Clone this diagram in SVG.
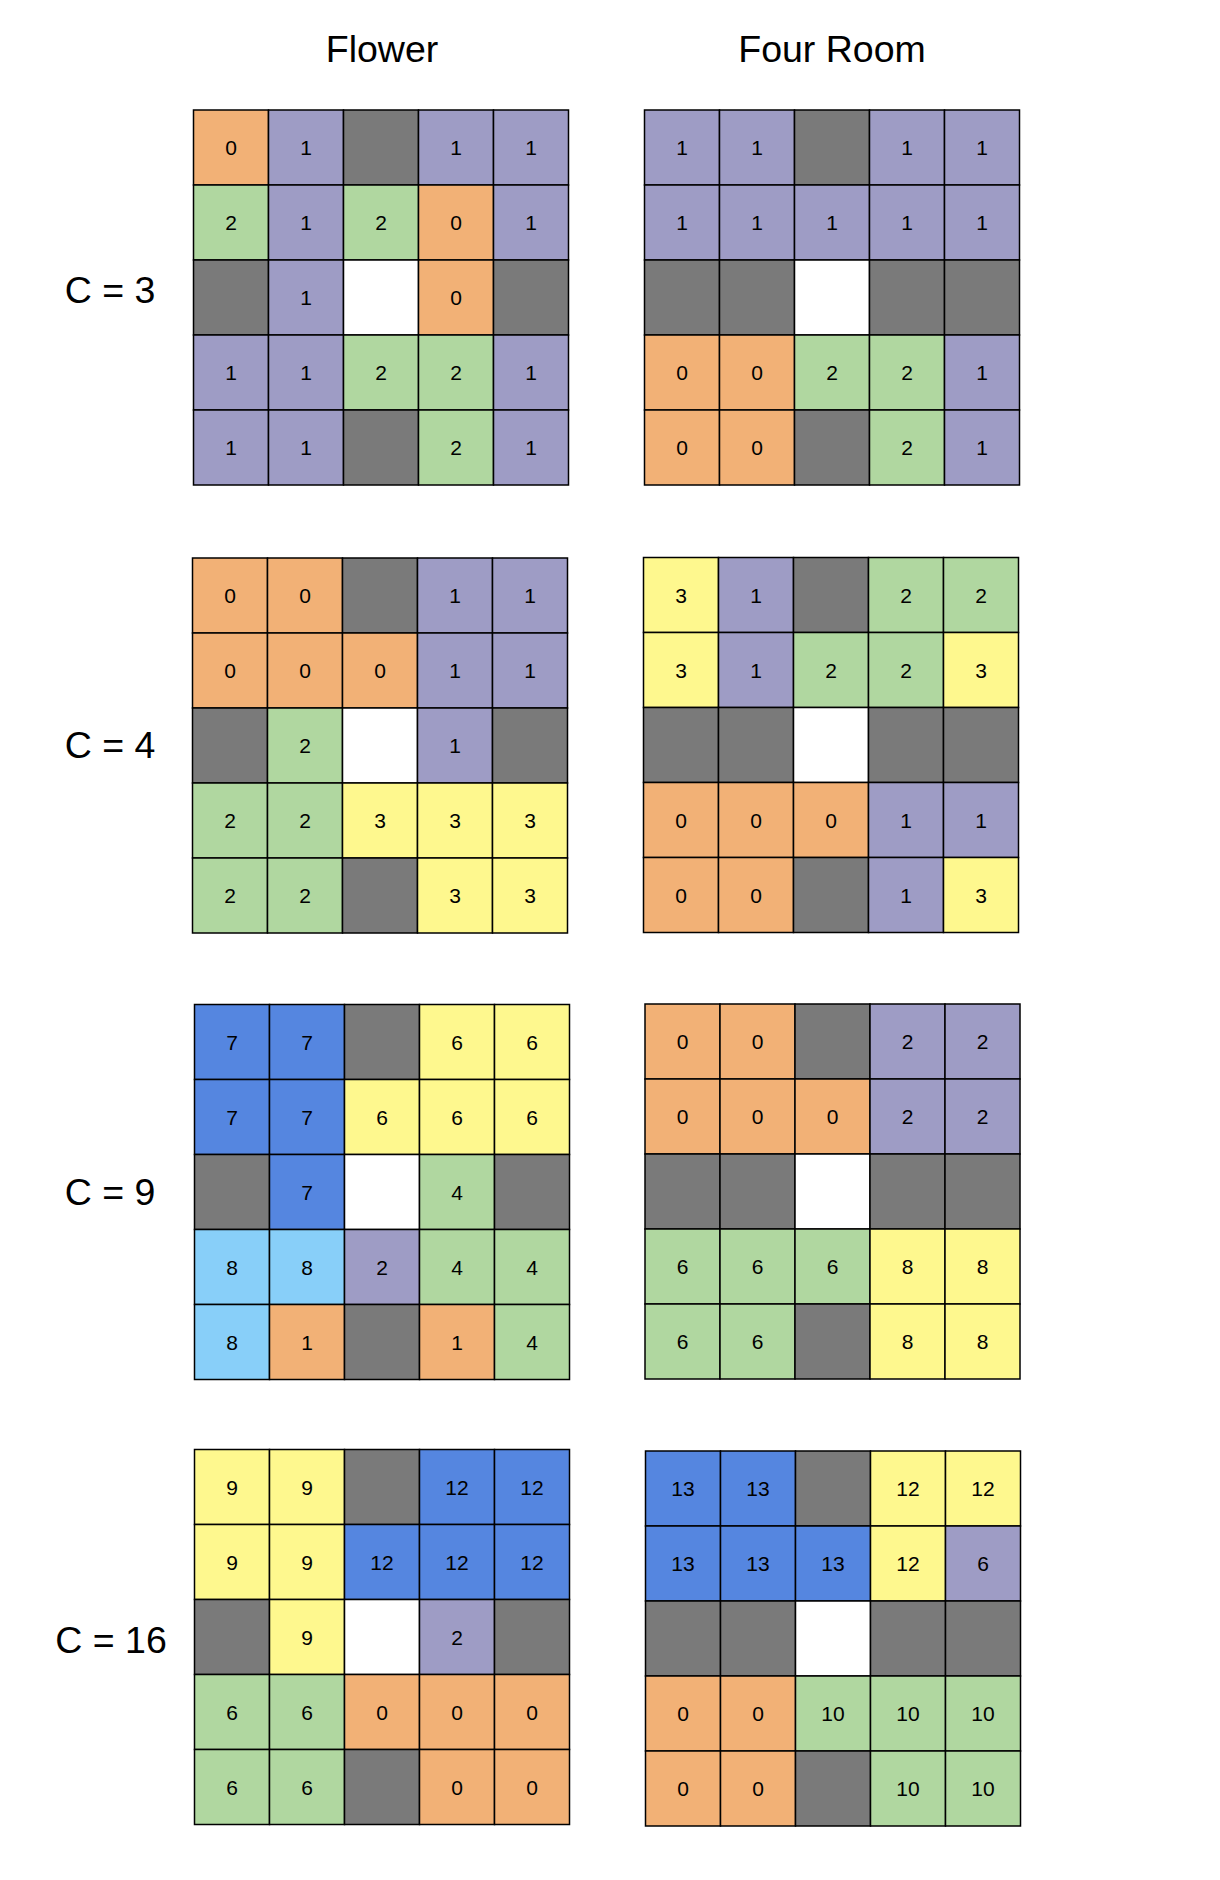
<svg xmlns="http://www.w3.org/2000/svg" width="1220" height="1880" viewBox="0 0 1220 1880">
<style>
rect{stroke:#000;stroke-width:1.5}
.o{fill:#F2B176}.p{fill:#9E9CC5}.g{fill:#B0D7A0}.k{fill:#7A7A7A}.w{fill:#FFFFFF}.y{fill:#FEF88E}.b{fill:#5586E0}.l{fill:#88CFF9}
text{font-family:"Liberation Sans",Arial,sans-serif;fill:#000;text-anchor:middle}
.n{font-size:21px}
.t{font-size:37.5px}
</style>
<rect x="0" y="0" width="1220" height="1880" fill="#FFFFFF" style="stroke:none"/>
<g id="titles">
<text class="t" x="382" y="62">Flower</text>
<text class="t" x="832" y="62">Four Room</text>
<text class="t" x="110" y="303">C = 3</text>
<text class="t" x="110" y="758">C = 4</text>
<text class="t" x="110" y="1205">C = 9</text>
<text class="t" x="111" y="1653">C = 16</text>
</g>

<g id="flower-c3" transform="translate(193.5,110)">
<rect class="o" x="0" y="0" width="75" height="75"/><text class="n" x="37.5" y="45">0</text>
<rect class="p" x="75" y="0" width="75" height="75"/><text class="n" x="112.5" y="45">1</text>
<rect class="k" x="150" y="0" width="75" height="75"/>
<rect class="p" x="225" y="0" width="75" height="75"/><text class="n" x="262.5" y="45">1</text>
<rect class="p" x="300" y="0" width="75" height="75"/><text class="n" x="337.5" y="45">1</text>
<rect class="g" x="0" y="75" width="75" height="75"/><text class="n" x="37.5" y="120">2</text>
<rect class="p" x="75" y="75" width="75" height="75"/><text class="n" x="112.5" y="120">1</text>
<rect class="g" x="150" y="75" width="75" height="75"/><text class="n" x="187.5" y="120">2</text>
<rect class="o" x="225" y="75" width="75" height="75"/><text class="n" x="262.5" y="120">0</text>
<rect class="p" x="300" y="75" width="75" height="75"/><text class="n" x="337.5" y="120">1</text>
<rect class="k" x="0" y="150" width="75" height="75"/>
<rect class="p" x="75" y="150" width="75" height="75"/><text class="n" x="112.5" y="195">1</text>
<rect class="w" x="150" y="150" width="75" height="75"/>
<rect class="o" x="225" y="150" width="75" height="75"/><text class="n" x="262.5" y="195">0</text>
<rect class="k" x="300" y="150" width="75" height="75"/>
<rect class="p" x="0" y="225" width="75" height="75"/><text class="n" x="37.5" y="270">1</text>
<rect class="p" x="75" y="225" width="75" height="75"/><text class="n" x="112.5" y="270">1</text>
<rect class="g" x="150" y="225" width="75" height="75"/><text class="n" x="187.5" y="270">2</text>
<rect class="g" x="225" y="225" width="75" height="75"/><text class="n" x="262.5" y="270">2</text>
<rect class="p" x="300" y="225" width="75" height="75"/><text class="n" x="337.5" y="270">1</text>
<rect class="p" x="0" y="300" width="75" height="75"/><text class="n" x="37.5" y="345">1</text>
<rect class="p" x="75" y="300" width="75" height="75"/><text class="n" x="112.5" y="345">1</text>
<rect class="k" x="150" y="300" width="75" height="75"/>
<rect class="g" x="225" y="300" width="75" height="75"/><text class="n" x="262.5" y="345">2</text>
<rect class="p" x="300" y="300" width="75" height="75"/><text class="n" x="337.5" y="345">1</text>
</g>

<g id="fourroom-c3" transform="translate(644.5,110)">
<rect class="p" x="0" y="0" width="75" height="75"/><text class="n" x="37.5" y="45">1</text>
<rect class="p" x="75" y="0" width="75" height="75"/><text class="n" x="112.5" y="45">1</text>
<rect class="k" x="150" y="0" width="75" height="75"/>
<rect class="p" x="225" y="0" width="75" height="75"/><text class="n" x="262.5" y="45">1</text>
<rect class="p" x="300" y="0" width="75" height="75"/><text class="n" x="337.5" y="45">1</text>
<rect class="p" x="0" y="75" width="75" height="75"/><text class="n" x="37.5" y="120">1</text>
<rect class="p" x="75" y="75" width="75" height="75"/><text class="n" x="112.5" y="120">1</text>
<rect class="p" x="150" y="75" width="75" height="75"/><text class="n" x="187.5" y="120">1</text>
<rect class="p" x="225" y="75" width="75" height="75"/><text class="n" x="262.5" y="120">1</text>
<rect class="p" x="300" y="75" width="75" height="75"/><text class="n" x="337.5" y="120">1</text>
<rect class="k" x="0" y="150" width="75" height="75"/>
<rect class="k" x="75" y="150" width="75" height="75"/>
<rect class="w" x="150" y="150" width="75" height="75"/>
<rect class="k" x="225" y="150" width="75" height="75"/>
<rect class="k" x="300" y="150" width="75" height="75"/>
<rect class="o" x="0" y="225" width="75" height="75"/><text class="n" x="37.5" y="270">0</text>
<rect class="o" x="75" y="225" width="75" height="75"/><text class="n" x="112.5" y="270">0</text>
<rect class="g" x="150" y="225" width="75" height="75"/><text class="n" x="187.5" y="270">2</text>
<rect class="g" x="225" y="225" width="75" height="75"/><text class="n" x="262.5" y="270">2</text>
<rect class="p" x="300" y="225" width="75" height="75"/><text class="n" x="337.5" y="270">1</text>
<rect class="o" x="0" y="300" width="75" height="75"/><text class="n" x="37.5" y="345">0</text>
<rect class="o" x="75" y="300" width="75" height="75"/><text class="n" x="112.5" y="345">0</text>
<rect class="k" x="150" y="300" width="75" height="75"/>
<rect class="g" x="225" y="300" width="75" height="75"/><text class="n" x="262.5" y="345">2</text>
<rect class="p" x="300" y="300" width="75" height="75"/><text class="n" x="337.5" y="345">1</text>
</g>

<g id="flower-c4" transform="translate(192.5,558)">
<rect class="o" x="0" y="0" width="75" height="75"/><text class="n" x="37.5" y="45">0</text>
<rect class="o" x="75" y="0" width="75" height="75"/><text class="n" x="112.5" y="45">0</text>
<rect class="k" x="150" y="0" width="75" height="75"/>
<rect class="p" x="225" y="0" width="75" height="75"/><text class="n" x="262.5" y="45">1</text>
<rect class="p" x="300" y="0" width="75" height="75"/><text class="n" x="337.5" y="45">1</text>
<rect class="o" x="0" y="75" width="75" height="75"/><text class="n" x="37.5" y="120">0</text>
<rect class="o" x="75" y="75" width="75" height="75"/><text class="n" x="112.5" y="120">0</text>
<rect class="o" x="150" y="75" width="75" height="75"/><text class="n" x="187.5" y="120">0</text>
<rect class="p" x="225" y="75" width="75" height="75"/><text class="n" x="262.5" y="120">1</text>
<rect class="p" x="300" y="75" width="75" height="75"/><text class="n" x="337.5" y="120">1</text>
<rect class="k" x="0" y="150" width="75" height="75"/>
<rect class="g" x="75" y="150" width="75" height="75"/><text class="n" x="112.5" y="195">2</text>
<rect class="w" x="150" y="150" width="75" height="75"/>
<rect class="p" x="225" y="150" width="75" height="75"/><text class="n" x="262.5" y="195">1</text>
<rect class="k" x="300" y="150" width="75" height="75"/>
<rect class="g" x="0" y="225" width="75" height="75"/><text class="n" x="37.5" y="270">2</text>
<rect class="g" x="75" y="225" width="75" height="75"/><text class="n" x="112.5" y="270">2</text>
<rect class="y" x="150" y="225" width="75" height="75"/><text class="n" x="187.5" y="270">3</text>
<rect class="y" x="225" y="225" width="75" height="75"/><text class="n" x="262.5" y="270">3</text>
<rect class="y" x="300" y="225" width="75" height="75"/><text class="n" x="337.5" y="270">3</text>
<rect class="g" x="0" y="300" width="75" height="75"/><text class="n" x="37.5" y="345">2</text>
<rect class="g" x="75" y="300" width="75" height="75"/><text class="n" x="112.5" y="345">2</text>
<rect class="k" x="150" y="300" width="75" height="75"/>
<rect class="y" x="225" y="300" width="75" height="75"/><text class="n" x="262.5" y="345">3</text>
<rect class="y" x="300" y="300" width="75" height="75"/><text class="n" x="337.5" y="345">3</text>
</g>

<g id="fourroom-c4" transform="translate(643.5,557.5)">
<rect class="y" x="0" y="0" width="75" height="75"/><text class="n" x="37.5" y="45">3</text>
<rect class="p" x="75" y="0" width="75" height="75"/><text class="n" x="112.5" y="45">1</text>
<rect class="k" x="150" y="0" width="75" height="75"/>
<rect class="g" x="225" y="0" width="75" height="75"/><text class="n" x="262.5" y="45">2</text>
<rect class="g" x="300" y="0" width="75" height="75"/><text class="n" x="337.5" y="45">2</text>
<rect class="y" x="0" y="75" width="75" height="75"/><text class="n" x="37.5" y="120">3</text>
<rect class="p" x="75" y="75" width="75" height="75"/><text class="n" x="112.5" y="120">1</text>
<rect class="g" x="150" y="75" width="75" height="75"/><text class="n" x="187.5" y="120">2</text>
<rect class="g" x="225" y="75" width="75" height="75"/><text class="n" x="262.5" y="120">2</text>
<rect class="y" x="300" y="75" width="75" height="75"/><text class="n" x="337.5" y="120">3</text>
<rect class="k" x="0" y="150" width="75" height="75"/>
<rect class="k" x="75" y="150" width="75" height="75"/>
<rect class="w" x="150" y="150" width="75" height="75"/>
<rect class="k" x="225" y="150" width="75" height="75"/>
<rect class="k" x="300" y="150" width="75" height="75"/>
<rect class="o" x="0" y="225" width="75" height="75"/><text class="n" x="37.5" y="270">0</text>
<rect class="o" x="75" y="225" width="75" height="75"/><text class="n" x="112.5" y="270">0</text>
<rect class="o" x="150" y="225" width="75" height="75"/><text class="n" x="187.5" y="270">0</text>
<rect class="p" x="225" y="225" width="75" height="75"/><text class="n" x="262.5" y="270">1</text>
<rect class="p" x="300" y="225" width="75" height="75"/><text class="n" x="337.5" y="270">1</text>
<rect class="o" x="0" y="300" width="75" height="75"/><text class="n" x="37.5" y="345">0</text>
<rect class="o" x="75" y="300" width="75" height="75"/><text class="n" x="112.5" y="345">0</text>
<rect class="k" x="150" y="300" width="75" height="75"/>
<rect class="p" x="225" y="300" width="75" height="75"/><text class="n" x="262.5" y="345">1</text>
<rect class="y" x="300" y="300" width="75" height="75"/><text class="n" x="337.5" y="345">3</text>
</g>

<g id="flower-c9" transform="translate(194.5,1004.5)">
<rect class="b" x="0" y="0" width="75" height="75"/><text class="n" x="37.5" y="45">7</text>
<rect class="b" x="75" y="0" width="75" height="75"/><text class="n" x="112.5" y="45">7</text>
<rect class="k" x="150" y="0" width="75" height="75"/>
<rect class="y" x="225" y="0" width="75" height="75"/><text class="n" x="262.5" y="45">6</text>
<rect class="y" x="300" y="0" width="75" height="75"/><text class="n" x="337.5" y="45">6</text>
<rect class="b" x="0" y="75" width="75" height="75"/><text class="n" x="37.5" y="120">7</text>
<rect class="b" x="75" y="75" width="75" height="75"/><text class="n" x="112.5" y="120">7</text>
<rect class="y" x="150" y="75" width="75" height="75"/><text class="n" x="187.5" y="120">6</text>
<rect class="y" x="225" y="75" width="75" height="75"/><text class="n" x="262.5" y="120">6</text>
<rect class="y" x="300" y="75" width="75" height="75"/><text class="n" x="337.5" y="120">6</text>
<rect class="k" x="0" y="150" width="75" height="75"/>
<rect class="b" x="75" y="150" width="75" height="75"/><text class="n" x="112.5" y="195">7</text>
<rect class="w" x="150" y="150" width="75" height="75"/>
<rect class="g" x="225" y="150" width="75" height="75"/><text class="n" x="262.5" y="195">4</text>
<rect class="k" x="300" y="150" width="75" height="75"/>
<rect class="l" x="0" y="225" width="75" height="75"/><text class="n" x="37.5" y="270">8</text>
<rect class="l" x="75" y="225" width="75" height="75"/><text class="n" x="112.5" y="270">8</text>
<rect class="p" x="150" y="225" width="75" height="75"/><text class="n" x="187.5" y="270">2</text>
<rect class="g" x="225" y="225" width="75" height="75"/><text class="n" x="262.5" y="270">4</text>
<rect class="g" x="300" y="225" width="75" height="75"/><text class="n" x="337.5" y="270">4</text>
<rect class="l" x="0" y="300" width="75" height="75"/><text class="n" x="37.5" y="345">8</text>
<rect class="o" x="75" y="300" width="75" height="75"/><text class="n" x="112.5" y="345">1</text>
<rect class="k" x="150" y="300" width="75" height="75"/>
<rect class="o" x="225" y="300" width="75" height="75"/><text class="n" x="262.5" y="345">1</text>
<rect class="g" x="300" y="300" width="75" height="75"/><text class="n" x="337.5" y="345">4</text>
</g>

<g id="fourroom-c9" transform="translate(645,1004)">
<rect class="o" x="0" y="0" width="75" height="75"/><text class="n" x="37.5" y="45">0</text>
<rect class="o" x="75" y="0" width="75" height="75"/><text class="n" x="112.5" y="45">0</text>
<rect class="k" x="150" y="0" width="75" height="75"/>
<rect class="p" x="225" y="0" width="75" height="75"/><text class="n" x="262.5" y="45">2</text>
<rect class="p" x="300" y="0" width="75" height="75"/><text class="n" x="337.5" y="45">2</text>
<rect class="o" x="0" y="75" width="75" height="75"/><text class="n" x="37.5" y="120">0</text>
<rect class="o" x="75" y="75" width="75" height="75"/><text class="n" x="112.5" y="120">0</text>
<rect class="o" x="150" y="75" width="75" height="75"/><text class="n" x="187.5" y="120">0</text>
<rect class="p" x="225" y="75" width="75" height="75"/><text class="n" x="262.5" y="120">2</text>
<rect class="p" x="300" y="75" width="75" height="75"/><text class="n" x="337.5" y="120">2</text>
<rect class="k" x="0" y="150" width="75" height="75"/>
<rect class="k" x="75" y="150" width="75" height="75"/>
<rect class="w" x="150" y="150" width="75" height="75"/>
<rect class="k" x="225" y="150" width="75" height="75"/>
<rect class="k" x="300" y="150" width="75" height="75"/>
<rect class="g" x="0" y="225" width="75" height="75"/><text class="n" x="37.5" y="270">6</text>
<rect class="g" x="75" y="225" width="75" height="75"/><text class="n" x="112.5" y="270">6</text>
<rect class="g" x="150" y="225" width="75" height="75"/><text class="n" x="187.5" y="270">6</text>
<rect class="y" x="225" y="225" width="75" height="75"/><text class="n" x="262.5" y="270">8</text>
<rect class="y" x="300" y="225" width="75" height="75"/><text class="n" x="337.5" y="270">8</text>
<rect class="g" x="0" y="300" width="75" height="75"/><text class="n" x="37.5" y="345">6</text>
<rect class="g" x="75" y="300" width="75" height="75"/><text class="n" x="112.5" y="345">6</text>
<rect class="k" x="150" y="300" width="75" height="75"/>
<rect class="y" x="225" y="300" width="75" height="75"/><text class="n" x="262.5" y="345">8</text>
<rect class="y" x="300" y="300" width="75" height="75"/><text class="n" x="337.5" y="345">8</text>
</g>

<g id="flower-c16" transform="translate(194.5,1449.5)">
<rect class="y" x="0" y="0" width="75" height="75"/><text class="n" x="37.5" y="45">9</text>
<rect class="y" x="75" y="0" width="75" height="75"/><text class="n" x="112.5" y="45">9</text>
<rect class="k" x="150" y="0" width="75" height="75"/>
<rect class="b" x="225" y="0" width="75" height="75"/><text class="n" x="262.5" y="45">12</text>
<rect class="b" x="300" y="0" width="75" height="75"/><text class="n" x="337.5" y="45">12</text>
<rect class="y" x="0" y="75" width="75" height="75"/><text class="n" x="37.5" y="120">9</text>
<rect class="y" x="75" y="75" width="75" height="75"/><text class="n" x="112.5" y="120">9</text>
<rect class="b" x="150" y="75" width="75" height="75"/><text class="n" x="187.5" y="120">12</text>
<rect class="b" x="225" y="75" width="75" height="75"/><text class="n" x="262.5" y="120">12</text>
<rect class="b" x="300" y="75" width="75" height="75"/><text class="n" x="337.5" y="120">12</text>
<rect class="k" x="0" y="150" width="75" height="75"/>
<rect class="y" x="75" y="150" width="75" height="75"/><text class="n" x="112.5" y="195">9</text>
<rect class="w" x="150" y="150" width="75" height="75"/>
<rect class="p" x="225" y="150" width="75" height="75"/><text class="n" x="262.5" y="195">2</text>
<rect class="k" x="300" y="150" width="75" height="75"/>
<rect class="g" x="0" y="225" width="75" height="75"/><text class="n" x="37.5" y="270">6</text>
<rect class="g" x="75" y="225" width="75" height="75"/><text class="n" x="112.5" y="270">6</text>
<rect class="o" x="150" y="225" width="75" height="75"/><text class="n" x="187.5" y="270">0</text>
<rect class="o" x="225" y="225" width="75" height="75"/><text class="n" x="262.5" y="270">0</text>
<rect class="o" x="300" y="225" width="75" height="75"/><text class="n" x="337.5" y="270">0</text>
<rect class="g" x="0" y="300" width="75" height="75"/><text class="n" x="37.5" y="345">6</text>
<rect class="g" x="75" y="300" width="75" height="75"/><text class="n" x="112.5" y="345">6</text>
<rect class="k" x="150" y="300" width="75" height="75"/>
<rect class="o" x="225" y="300" width="75" height="75"/><text class="n" x="262.5" y="345">0</text>
<rect class="o" x="300" y="300" width="75" height="75"/><text class="n" x="337.5" y="345">0</text>
</g>

<g id="fourroom-c16" transform="translate(645.5,1451)">
<rect class="b" x="0" y="0" width="75" height="75"/><text class="n" x="37.5" y="45">13</text>
<rect class="b" x="75" y="0" width="75" height="75"/><text class="n" x="112.5" y="45">13</text>
<rect class="k" x="150" y="0" width="75" height="75"/>
<rect class="y" x="225" y="0" width="75" height="75"/><text class="n" x="262.5" y="45">12</text>
<rect class="y" x="300" y="0" width="75" height="75"/><text class="n" x="337.5" y="45">12</text>
<rect class="b" x="0" y="75" width="75" height="75"/><text class="n" x="37.5" y="120">13</text>
<rect class="b" x="75" y="75" width="75" height="75"/><text class="n" x="112.5" y="120">13</text>
<rect class="b" x="150" y="75" width="75" height="75"/><text class="n" x="187.5" y="120">13</text>
<rect class="y" x="225" y="75" width="75" height="75"/><text class="n" x="262.5" y="120">12</text>
<rect class="p" x="300" y="75" width="75" height="75"/><text class="n" x="337.5" y="120">6</text>
<rect class="k" x="0" y="150" width="75" height="75"/>
<rect class="k" x="75" y="150" width="75" height="75"/>
<rect class="w" x="150" y="150" width="75" height="75"/>
<rect class="k" x="225" y="150" width="75" height="75"/>
<rect class="k" x="300" y="150" width="75" height="75"/>
<rect class="o" x="0" y="225" width="75" height="75"/><text class="n" x="37.5" y="270">0</text>
<rect class="o" x="75" y="225" width="75" height="75"/><text class="n" x="112.5" y="270">0</text>
<rect class="g" x="150" y="225" width="75" height="75"/><text class="n" x="187.5" y="270">10</text>
<rect class="g" x="225" y="225" width="75" height="75"/><text class="n" x="262.5" y="270">10</text>
<rect class="g" x="300" y="225" width="75" height="75"/><text class="n" x="337.5" y="270">10</text>
<rect class="o" x="0" y="300" width="75" height="75"/><text class="n" x="37.5" y="345">0</text>
<rect class="o" x="75" y="300" width="75" height="75"/><text class="n" x="112.5" y="345">0</text>
<rect class="k" x="150" y="300" width="75" height="75"/>
<rect class="g" x="225" y="300" width="75" height="75"/><text class="n" x="262.5" y="345">10</text>
<rect class="g" x="300" y="300" width="75" height="75"/><text class="n" x="337.5" y="345">10</text>
</g>
</svg>
